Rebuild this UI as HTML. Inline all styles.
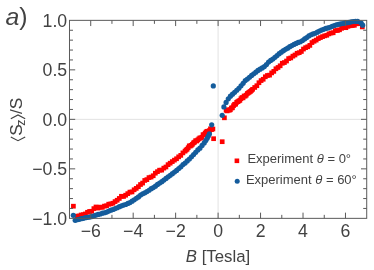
<!DOCTYPE html><html><head><meta charset="utf-8"><style>html,body{margin:0;padding:0;background:#fff}body{width:374px;height:270px;overflow:hidden}</style></head><body><svg width="374" height="270" viewBox="0 0 374 270" style="display:block;will-change:transform"><rect width="374" height="270" fill="#fff"/><line x1="218.10" y1="20.35" x2="218.10" y2="218.35" stroke="#e2e2e2" stroke-width="1"/><line x1="69.49" y1="119.35" x2="366.71" y2="119.35" stroke="#e2e2e2" stroke-width="1"/><g fill="#ff0000"><rect x="71.05" y="203.85" width="4.7" height="4.7"/><rect x="74.55" y="213.83" width="4.7" height="4.7"/><rect x="76.67" y="213.61" width="4.7" height="4.7"/><rect x="78.79" y="212.63" width="4.7" height="4.7"/><rect x="80.91" y="212.30" width="4.7" height="4.7"/><rect x="83.03" y="211.60" width="4.7" height="4.7"/><rect x="85.15" y="209.94" width="4.7" height="4.7"/><rect x="87.27" y="209.08" width="4.7" height="4.7"/><rect x="89.39" y="208.92" width="4.7" height="4.7"/><rect x="91.51" y="206.26" width="4.7" height="4.7"/><rect x="93.63" y="204.62" width="4.7" height="4.7"/><rect x="95.75" y="205.72" width="4.7" height="4.7"/><rect x="97.87" y="204.76" width="4.7" height="4.7"/><rect x="99.99" y="204.98" width="4.7" height="4.7"/><rect x="102.11" y="203.77" width="4.7" height="4.7"/><rect x="104.23" y="203.40" width="4.7" height="4.7"/><rect x="106.35" y="201.84" width="4.7" height="4.7"/><rect x="108.47" y="201.56" width="4.7" height="4.7"/><rect x="110.59" y="200.87" width="4.7" height="4.7"/><rect x="112.71" y="199.24" width="4.7" height="4.7"/><rect x="114.83" y="197.89" width="4.7" height="4.7"/><rect x="116.95" y="196.08" width="4.7" height="4.7"/><rect x="119.07" y="193.93" width="4.7" height="4.7"/><rect x="121.19" y="194.11" width="4.7" height="4.7"/><rect x="123.31" y="192.85" width="4.7" height="4.7"/><rect x="125.43" y="191.29" width="4.7" height="4.7"/><rect x="127.55" y="189.75" width="4.7" height="4.7"/><rect x="129.67" y="189.58" width="4.7" height="4.7"/><rect x="131.79" y="187.43" width="4.7" height="4.7"/><rect x="133.91" y="186.04" width="4.7" height="4.7"/><rect x="136.03" y="184.35" width="4.7" height="4.7"/><rect x="138.15" y="182.17" width="4.7" height="4.7"/><rect x="140.27" y="180.72" width="4.7" height="4.7"/><rect x="142.39" y="178.10" width="4.7" height="4.7"/><rect x="144.51" y="177.27" width="4.7" height="4.7"/><rect x="146.63" y="175.25" width="4.7" height="4.7"/><rect x="148.75" y="174.71" width="4.7" height="4.7"/><rect x="150.87" y="173.39" width="4.7" height="4.7"/><rect x="152.99" y="170.85" width="4.7" height="4.7"/><rect x="155.11" y="169.30" width="4.7" height="4.7"/><rect x="157.23" y="167.82" width="4.7" height="4.7"/><rect x="159.35" y="167.78" width="4.7" height="4.7"/><rect x="161.47" y="165.79" width="4.7" height="4.7"/><rect x="163.59" y="164.64" width="4.7" height="4.7"/><rect x="165.71" y="162.30" width="4.7" height="4.7"/><rect x="167.83" y="160.84" width="4.7" height="4.7"/><rect x="169.95" y="159.25" width="4.7" height="4.7"/><rect x="172.07" y="157.79" width="4.7" height="4.7"/><rect x="174.19" y="156.40" width="4.7" height="4.7"/><rect x="176.31" y="154.49" width="4.7" height="4.7"/><rect x="178.43" y="153.02" width="4.7" height="4.7"/><rect x="180.55" y="150.54" width="4.7" height="4.7"/><rect x="182.67" y="148.82" width="4.7" height="4.7"/><rect x="183.73" y="147.68" width="4.7" height="4.7"/><rect x="184.79" y="146.88" width="4.7" height="4.7"/><rect x="185.85" y="145.35" width="4.7" height="4.7"/><rect x="186.91" y="143.52" width="4.7" height="4.7"/><rect x="187.97" y="143.66" width="4.7" height="4.7"/><rect x="189.03" y="142.93" width="4.7" height="4.7"/><rect x="190.09" y="141.95" width="4.7" height="4.7"/><rect x="191.15" y="140.52" width="4.7" height="4.7"/><rect x="192.21" y="139.86" width="4.7" height="4.7"/><rect x="193.27" y="138.32" width="4.7" height="4.7"/><rect x="194.33" y="138.67" width="4.7" height="4.7"/><rect x="195.39" y="137.62" width="4.7" height="4.7"/><rect x="196.45" y="136.53" width="4.7" height="4.7"/><rect x="197.51" y="135.54" width="4.7" height="4.7"/><rect x="198.57" y="135.76" width="4.7" height="4.7"/><rect x="199.63" y="134.87" width="4.7" height="4.7"/><rect x="200.69" y="132.33" width="4.7" height="4.7"/><rect x="201.75" y="132.37" width="4.7" height="4.7"/><rect x="202.81" y="130.69" width="4.7" height="4.7"/><rect x="203.87" y="129.49" width="4.7" height="4.7"/><rect x="204.93" y="128.93" width="4.7" height="4.7"/><rect x="205.99" y="128.91" width="4.7" height="4.7"/><rect x="207.05" y="128.29" width="4.7" height="4.7"/><rect x="208.11" y="126.47" width="4.7" height="4.7"/><rect x="209.17" y="127.25" width="4.7" height="4.7"/><rect x="210.55" y="126.65" width="4.7" height="4.7"/><rect x="211.25" y="136.35" width="4.7" height="4.7"/><rect x="219.85" y="139.35" width="4.7" height="4.7"/><rect x="222.05" y="115.45" width="4.7" height="4.7"/><rect x="223.75" y="107.92" width="4.7" height="4.7"/><rect x="224.81" y="108.54" width="4.7" height="4.7"/><rect x="225.87" y="107.46" width="4.7" height="4.7"/><rect x="226.93" y="107.87" width="4.7" height="4.7"/><rect x="227.99" y="107.40" width="4.7" height="4.7"/><rect x="229.05" y="105.64" width="4.7" height="4.7"/><rect x="230.11" y="105.44" width="4.7" height="4.7"/><rect x="231.17" y="103.34" width="4.7" height="4.7"/><rect x="232.23" y="101.97" width="4.7" height="4.7"/><rect x="233.29" y="101.83" width="4.7" height="4.7"/><rect x="234.35" y="99.97" width="4.7" height="4.7"/><rect x="235.41" y="99.28" width="4.7" height="4.7"/><rect x="236.47" y="98.66" width="4.7" height="4.7"/><rect x="237.53" y="98.03" width="4.7" height="4.7"/><rect x="238.59" y="96.34" width="4.7" height="4.7"/><rect x="239.65" y="95.18" width="4.7" height="4.7"/><rect x="240.71" y="95.52" width="4.7" height="4.7"/><rect x="241.77" y="93.66" width="4.7" height="4.7"/><rect x="242.83" y="93.74" width="4.7" height="4.7"/><rect x="243.89" y="92.82" width="4.7" height="4.7"/><rect x="244.95" y="91.16" width="4.7" height="4.7"/><rect x="246.01" y="90.47" width="4.7" height="4.7"/><rect x="247.07" y="89.73" width="4.7" height="4.7"/><rect x="248.13" y="89.04" width="4.7" height="4.7"/><rect x="249.19" y="87.99" width="4.7" height="4.7"/><rect x="250.25" y="86.95" width="4.7" height="4.7"/><rect x="252.37" y="85.10" width="4.7" height="4.7"/><rect x="254.49" y="83.37" width="4.7" height="4.7"/><rect x="256.61" y="80.38" width="4.7" height="4.7"/><rect x="258.73" y="78.23" width="4.7" height="4.7"/><rect x="260.85" y="76.91" width="4.7" height="4.7"/><rect x="262.97" y="74.42" width="4.7" height="4.7"/><rect x="265.09" y="73.12" width="4.7" height="4.7"/><rect x="267.21" y="72.80" width="4.7" height="4.7"/><rect x="269.33" y="70.54" width="4.7" height="4.7"/><rect x="271.45" y="69.02" width="4.7" height="4.7"/><rect x="273.57" y="66.42" width="4.7" height="4.7"/><rect x="275.69" y="65.12" width="4.7" height="4.7"/><rect x="277.81" y="63.45" width="4.7" height="4.7"/><rect x="279.93" y="60.90" width="4.7" height="4.7"/><rect x="282.05" y="60.20" width="4.7" height="4.7"/><rect x="284.17" y="58.67" width="4.7" height="4.7"/><rect x="286.29" y="56.23" width="4.7" height="4.7"/><rect x="288.41" y="55.61" width="4.7" height="4.7"/><rect x="290.53" y="53.82" width="4.7" height="4.7"/><rect x="292.65" y="52.64" width="4.7" height="4.7"/><rect x="294.77" y="50.93" width="4.7" height="4.7"/><rect x="296.89" y="50.31" width="4.7" height="4.7"/><rect x="299.01" y="49.11" width="4.7" height="4.7"/><rect x="301.13" y="46.70" width="4.7" height="4.7"/><rect x="303.25" y="45.32" width="4.7" height="4.7"/><rect x="305.37" y="44.44" width="4.7" height="4.7"/><rect x="307.49" y="43.03" width="4.7" height="4.7"/><rect x="309.61" y="40.22" width="4.7" height="4.7"/><rect x="311.73" y="38.90" width="4.7" height="4.7"/><rect x="313.85" y="37.77" width="4.7" height="4.7"/><rect x="315.97" y="36.24" width="4.7" height="4.7"/><rect x="318.09" y="35.25" width="4.7" height="4.7"/><rect x="320.21" y="34.28" width="4.7" height="4.7"/><rect x="322.33" y="33.48" width="4.7" height="4.7"/><rect x="324.45" y="32.91" width="4.7" height="4.7"/><rect x="326.57" y="31.51" width="4.7" height="4.7"/><rect x="328.69" y="30.70" width="4.7" height="4.7"/><rect x="330.81" y="30.40" width="4.7" height="4.7"/><rect x="332.93" y="28.26" width="4.7" height="4.7"/><rect x="335.05" y="28.16" width="4.7" height="4.7"/><rect x="337.17" y="27.45" width="4.7" height="4.7"/><rect x="339.29" y="25.96" width="4.7" height="4.7"/><rect x="341.41" y="25.05" width="4.7" height="4.7"/><rect x="343.53" y="25.34" width="4.7" height="4.7"/><rect x="345.65" y="23.97" width="4.7" height="4.7"/><rect x="347.77" y="23.41" width="4.7" height="4.7"/><rect x="349.89" y="23.17" width="4.7" height="4.7"/><rect x="352.01" y="22.96" width="4.7" height="4.7"/><rect x="354.13" y="21.46" width="4.7" height="4.7"/><rect x="356.25" y="21.30" width="4.7" height="4.7"/><rect x="359.95" y="24.55" width="4.7" height="4.7"/></g><g fill="#145c9c"><circle cx="73.30" cy="215.30" r="2.6"/><circle cx="75.20" cy="220.30" r="2.6"/><circle cx="77.00" cy="219.73" r="2.6"/><circle cx="79.12" cy="219.30" r="2.6"/><circle cx="81.24" cy="218.63" r="2.6"/><circle cx="83.36" cy="218.37" r="2.6"/><circle cx="85.48" cy="217.68" r="2.6"/><circle cx="87.60" cy="217.33" r="2.6"/><circle cx="89.72" cy="217.05" r="2.6"/><circle cx="91.84" cy="216.58" r="2.6"/><circle cx="93.96" cy="215.80" r="2.6"/><circle cx="96.08" cy="215.09" r="2.6"/><circle cx="98.20" cy="214.44" r="2.6"/><circle cx="100.32" cy="213.99" r="2.6"/><circle cx="102.44" cy="213.20" r="2.6"/><circle cx="104.56" cy="212.75" r="2.6"/><circle cx="106.68" cy="212.07" r="2.6"/><circle cx="108.80" cy="211.04" r="2.6"/><circle cx="110.92" cy="210.19" r="2.6"/><circle cx="113.04" cy="209.52" r="2.6"/><circle cx="115.16" cy="208.57" r="2.6"/><circle cx="117.28" cy="207.76" r="2.6"/><circle cx="119.40" cy="206.69" r="2.6"/><circle cx="121.52" cy="205.80" r="2.6"/><circle cx="123.64" cy="205.11" r="2.6"/><circle cx="125.76" cy="204.50" r="2.6"/><circle cx="127.88" cy="203.40" r="2.6"/><circle cx="130.00" cy="202.54" r="2.6"/><circle cx="132.12" cy="201.17" r="2.6"/><circle cx="134.24" cy="199.77" r="2.6"/><circle cx="136.36" cy="198.26" r="2.6"/><circle cx="138.48" cy="196.89" r="2.6"/><circle cx="140.60" cy="195.10" r="2.6"/><circle cx="142.72" cy="193.77" r="2.6"/><circle cx="144.84" cy="192.87" r="2.6"/><circle cx="146.96" cy="191.54" r="2.6"/><circle cx="149.08" cy="190.27" r="2.6"/><circle cx="151.20" cy="188.71" r="2.6"/><circle cx="153.32" cy="187.56" r="2.6"/><circle cx="155.44" cy="186.16" r="2.6"/><circle cx="157.56" cy="184.40" r="2.6"/><circle cx="159.68" cy="183.12" r="2.6"/><circle cx="161.80" cy="181.64" r="2.6"/><circle cx="163.92" cy="180.04" r="2.6"/><circle cx="166.04" cy="178.46" r="2.6"/><circle cx="168.16" cy="176.84" r="2.6"/><circle cx="170.28" cy="175.32" r="2.6"/><circle cx="172.40" cy="173.67" r="2.6"/><circle cx="174.52" cy="171.99" r="2.6"/><circle cx="176.64" cy="170.43" r="2.6"/><circle cx="178.76" cy="168.48" r="2.6"/><circle cx="180.88" cy="166.83" r="2.6"/><circle cx="183.00" cy="164.62" r="2.6"/><circle cx="185.12" cy="163.05" r="2.6"/><circle cx="187.24" cy="160.93" r="2.6"/><circle cx="189.36" cy="158.98" r="2.6"/><circle cx="191.48" cy="156.82" r="2.6"/><circle cx="193.60" cy="154.62" r="2.6"/><circle cx="195.72" cy="152.31" r="2.6"/><circle cx="197.84" cy="149.97" r="2.6"/><circle cx="199.96" cy="148.14" r="2.6"/><circle cx="202.08" cy="145.41" r="2.6"/><circle cx="204.20" cy="142.96" r="2.6"/><circle cx="205.80" cy="140.50" r="2.6"/><circle cx="207.20" cy="138.30" r="2.6"/><circle cx="208.30" cy="136.10" r="2.6"/><circle cx="209.40" cy="133.90" r="2.6"/><circle cx="211.70" cy="124.80" r="2.6"/><circle cx="213.30" cy="85.90" r="2.6"/><circle cx="222.20" cy="115.30" r="2.6"/><circle cx="223.90" cy="106.90" r="2.6"/><circle cx="226.10" cy="102.40" r="2.6"/><circle cx="228.30" cy="98.87" r="2.6"/><circle cx="230.42" cy="96.21" r="2.6"/><circle cx="232.54" cy="94.13" r="2.6"/><circle cx="234.66" cy="92.30" r="2.6"/><circle cx="236.78" cy="90.24" r="2.6"/><circle cx="238.90" cy="88.23" r="2.6"/><circle cx="241.02" cy="85.87" r="2.6"/><circle cx="243.14" cy="83.36" r="2.6"/><circle cx="245.26" cy="80.59" r="2.6"/><circle cx="247.38" cy="79.06" r="2.6"/><circle cx="249.50" cy="77.23" r="2.6"/><circle cx="251.62" cy="75.42" r="2.6"/><circle cx="253.74" cy="73.77" r="2.6"/><circle cx="255.86" cy="72.21" r="2.6"/><circle cx="257.98" cy="70.42" r="2.6"/><circle cx="260.10" cy="69.15" r="2.6"/><circle cx="262.22" cy="67.89" r="2.6"/><circle cx="264.34" cy="66.53" r="2.6"/><circle cx="266.46" cy="64.61" r="2.6"/><circle cx="268.58" cy="62.08" r="2.6"/><circle cx="270.70" cy="60.39" r="2.6"/><circle cx="272.82" cy="59.08" r="2.6"/><circle cx="274.94" cy="57.36" r="2.6"/><circle cx="277.06" cy="55.55" r="2.6"/><circle cx="279.18" cy="53.65" r="2.6"/><circle cx="281.30" cy="52.15" r="2.6"/><circle cx="283.42" cy="50.71" r="2.6"/><circle cx="285.54" cy="49.37" r="2.6"/><circle cx="287.66" cy="48.21" r="2.6"/><circle cx="289.78" cy="46.63" r="2.6"/><circle cx="291.90" cy="45.53" r="2.6"/><circle cx="294.02" cy="44.46" r="2.6"/><circle cx="296.14" cy="43.43" r="2.6"/><circle cx="298.26" cy="42.43" r="2.6"/><circle cx="300.38" cy="41.77" r="2.6"/><circle cx="302.50" cy="40.49" r="2.6"/><circle cx="304.62" cy="38.95" r="2.6"/><circle cx="306.74" cy="37.61" r="2.6"/><circle cx="308.86" cy="35.97" r="2.6"/><circle cx="310.98" cy="34.75" r="2.6"/><circle cx="313.10" cy="33.96" r="2.6"/><circle cx="315.22" cy="33.25" r="2.6"/><circle cx="317.34" cy="32.16" r="2.6"/><circle cx="319.46" cy="31.01" r="2.6"/><circle cx="321.58" cy="30.08" r="2.6"/><circle cx="323.70" cy="29.33" r="2.6"/><circle cx="325.82" cy="28.47" r="2.6"/><circle cx="327.94" cy="27.92" r="2.6"/><circle cx="330.06" cy="27.26" r="2.6"/><circle cx="332.18" cy="26.37" r="2.6"/><circle cx="334.30" cy="25.48" r="2.6"/><circle cx="336.42" cy="24.85" r="2.6"/><circle cx="338.54" cy="24.29" r="2.6"/><circle cx="340.66" cy="23.82" r="2.6"/><circle cx="342.78" cy="23.51" r="2.6"/><circle cx="344.90" cy="22.97" r="2.6"/><circle cx="347.02" cy="22.76" r="2.6"/><circle cx="349.14" cy="22.30" r="2.6"/><circle cx="351.26" cy="21.87" r="2.6"/><circle cx="353.38" cy="21.51" r="2.6"/><circle cx="355.50" cy="21.30" r="2.6"/><circle cx="357.62" cy="21.38" r="2.6"/><circle cx="361.20" cy="23.00" r="2.6"/><circle cx="362.70" cy="25.20" r="2.6"/></g><path d="M90.72 218.35v-5.7M90.72 20.35v5.7M111.95 218.35v-3.5M111.95 20.35v3.5M133.18 218.35v-5.7M133.18 20.35v5.7M154.41 218.35v-3.5M154.41 20.35v3.5M175.64 218.35v-5.7M175.64 20.35v5.7M196.87 218.35v-3.5M196.87 20.35v3.5M218.10 218.35v-5.7M218.10 20.35v5.7M239.33 218.35v-3.5M239.33 20.35v3.5M260.56 218.35v-5.7M260.56 20.35v5.7M281.79 218.35v-3.5M281.79 20.35v3.5M303.02 218.35v-5.7M303.02 20.35v5.7M324.25 218.35v-3.5M324.25 20.35v3.5M345.48 218.35v-5.7M345.48 20.35v5.7M69.49 208.45h3.5M366.71 208.45h-3.5M69.49 198.55h3.5M366.71 198.55h-3.5M69.49 188.65h3.5M366.71 188.65h-3.5M69.49 178.75h3.5M366.71 178.75h-3.5M69.49 168.85h5.7M366.71 168.85h-5.7M69.49 158.95h3.5M366.71 158.95h-3.5M69.49 149.05h3.5M366.71 149.05h-3.5M69.49 139.15h3.5M366.71 139.15h-3.5M69.49 129.25h3.5M366.71 129.25h-3.5M69.49 119.35h5.7M366.71 119.35h-5.7M69.49 109.45h3.5M366.71 109.45h-3.5M69.49 99.55h3.5M366.71 99.55h-3.5M69.49 89.65h3.5M366.71 89.65h-3.5M69.49 79.75h3.5M366.71 79.75h-3.5M69.49 69.85h5.7M366.71 69.85h-5.7M69.49 59.95h3.5M366.71 59.95h-3.5M69.49 50.05h3.5M366.71 50.05h-3.5M69.49 40.15h3.5M366.71 40.15h-3.5M69.49 30.25h3.5M366.71 30.25h-3.5" stroke="#5a5a5a" stroke-width="1" fill="none"/><rect x="69.49" y="20.35" width="297.22" height="198.00" fill="none" stroke="#5a5a5a" stroke-width="1"/><g font-family="Liberation Sans, sans-serif" fill="#424242"><text x="90.72" y="237.2" font-size="17.7" text-anchor="middle">−6</text><text x="133.18" y="237.2" font-size="17.7" text-anchor="middle">−4</text><text x="175.64" y="237.2" font-size="17.7" text-anchor="middle">−2</text><text x="218.10" y="237.2" font-size="17.7" text-anchor="middle">0</text><text x="260.56" y="237.2" font-size="17.7" text-anchor="middle">2</text><text x="303.02" y="237.2" font-size="17.7" text-anchor="middle">4</text><text x="345.48" y="237.2" font-size="17.7" text-anchor="middle">6</text><text x="67.2" y="26.95" font-size="17.7" text-anchor="end">1.0</text><text x="67.2" y="76.45" font-size="17.7" text-anchor="end">0.5</text><text x="67.2" y="125.95" font-size="17.7" text-anchor="end">0.0</text><text x="67.2" y="175.45" font-size="17.7" text-anchor="end">−0.5</text><text x="67.2" y="224.95" font-size="17.7" text-anchor="end">−1.0</text><text x="5.5" y="25" font-size="24.8"><tspan font-style="italic">a</tspan>)</text><text x="218" y="262.3" font-size="16.8" text-anchor="middle"><tspan font-style="italic">B</tspan> [Tesla]</text><g transform="translate(22.4,143) rotate(-90)"><path d="M6.1 -11.6L2.3 -4.4L6.1 2.8M24.3 -11.6L28.1 -4.4L24.3 2.8" stroke="#424242" stroke-width="1.15" fill="none"/><text x="7.2" y="0" font-size="17.3">S</text><text x="17.3" y="3" font-size="12.3">z</text><text x="29.0" y="0" font-size="17.3">/S</text></g><rect x="234.6" y="158.5" width="4.6" height="4.6" fill="#ff0000"/><circle cx="237.2" cy="181.2" r="2.5" fill="#145c9c"/><text x="247.4" y="163.4" font-size="13">Experiment <tspan font-style="italic">θ</tspan> = 0°</text><text x="245.9" y="183.6" font-size="13">Experiment <tspan font-style="italic">θ</tspan> = 60°</text></g></svg></body></html>
